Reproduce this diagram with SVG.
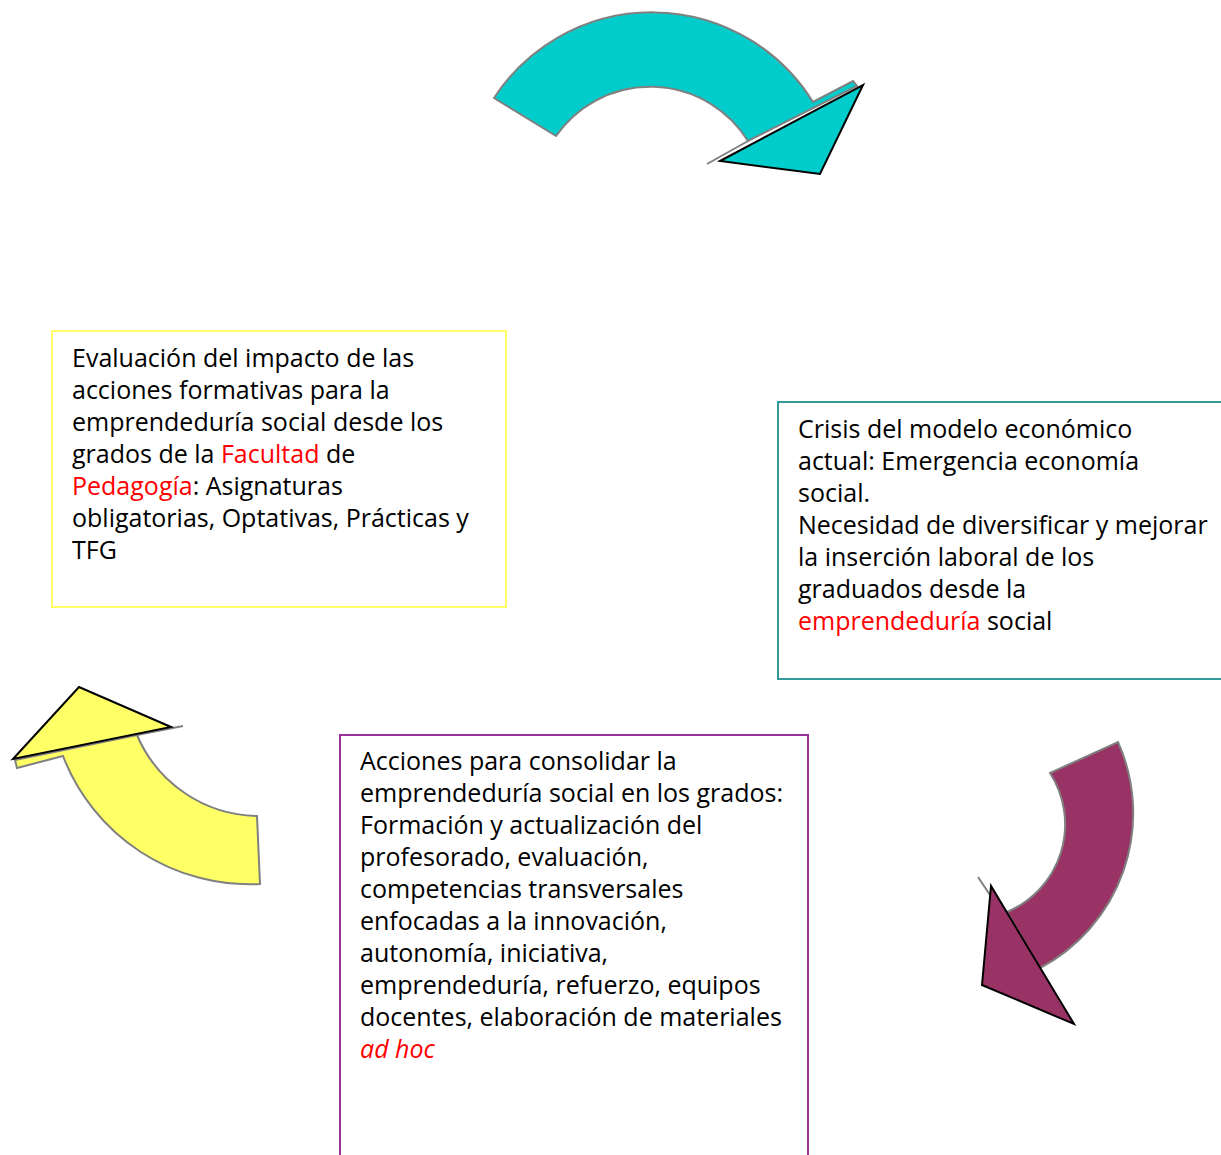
<svg xmlns="http://www.w3.org/2000/svg" width="1221" height="1155" viewBox="0 0 1221 1155">
<style>
text{font-family:"Open Sans",Lato,"Liberation Sans",sans-serif;font-size:25px;fill:#000}
.r{fill:#ff0000}
.box{fill:#fff;stroke-width:2}
.arc{stroke:#808080;stroke-width:2;stroke-linejoin:miter}
.sh{stroke:#808080;stroke-width:2;fill:none}
.tri{stroke:#000;stroke-width:2;stroke-linejoin:miter}
</style>
<rect width="1221" height="1155" fill="#fff"/>
<g id="connectors">
<g id="arrow-top">
<path class="arc" fill="#00cccc" d="M494,98 A189,189 0 0 1 813,102 L853,81 L857,86 L748,141 A115,115 0 0 0 556,136 Z"/>
<line class="sh" x1="707" y1="164" x2="748" y2="141"/>
<polygon class="tri" fill="#00cccc" points="720,161 863,85 820,174"/>
</g>
<g id="arrow-right">
<path class="arc" fill="#993366" d="M1118,742 A175,175 0 0 1 1040,968 L1007,912 A95,95 0 0 0 1050,773 Z"/>
<line class="sh" x1="978" y1="877" x2="992" y2="898"/>
<polygon class="tri" fill="#993366" points="991,886 982,985 1074,1024"/>
</g>
<g id="arrow-left">
<path class="arc" fill="#ffff66" d="M260,884 A200,200 0 0 1 63,756 L17,768 L15,760 L137,735 A133,133 0 0 0 257,816 Z"/>
<line class="sh" x1="137" y1="735" x2="183" y2="726"/>
<polygon class="tri" fill="#ffff66" points="13,759 79,687 171,727"/>
</g>
</g>
<g id="node-evaluacion">
<rect class="box" x="52" y="331" width="454" height="276" stroke="#ffff66"/>
<text x="72" y="367">Evaluación del impacto de las</text>
<text x="72" y="399">acciones formativas para la</text>
<text x="72" y="431">emprendeduría social desde los</text>
<text x="72" y="463">grados de la <tspan class="r">Facultad</tspan> de</text>
<text x="72" y="495"><tspan class="r">Pedagogía</tspan>: Asignaturas</text>
<text x="72" y="527">obligatorias, Optativas, Prácticas y</text>
<text x="72" y="559">TFG</text>
</g>
<g id="node-crisis">
<rect class="box" x="778" y="402" width="450" height="277" stroke="#339999"/>
<text x="798" y="438">Crisis del modelo económico</text>
<text x="798" y="470">actual: Emergencia economía</text>
<text x="798" y="502">social.</text>
<text x="798" y="534">Necesidad de diversificar y mejorar</text>
<text x="798" y="566">la inserción laboral de los</text>
<text x="798" y="598">graduados desde la</text>
<text x="798" y="630"><tspan class="r">emprendeduría</tspan> social</text>
</g>
<g id="node-acciones">
<rect class="box" x="340" y="735" width="468" height="440" stroke="#993399"/>
<text x="360" y="770">Acciones para consolidar la</text>
<text x="360" y="802">emprendeduría social en los grados:</text>
<text x="360" y="834">Formación y actualización del</text>
<text x="360" y="866">profesorado, evaluación,</text>
<text x="360" y="898">competencias transversales</text>
<text x="360" y="930">enfocadas a la innovación,</text>
<text x="360" y="962">autonomía, iniciativa,</text>
<text x="360" y="994">emprendeduría, refuerzo, equipos</text>
<text x="360" y="1026">docentes, elaboración de materiales</text>
<text x="360" y="1058" class="r" font-style="italic">ad hoc</text>
</g>
</svg>
